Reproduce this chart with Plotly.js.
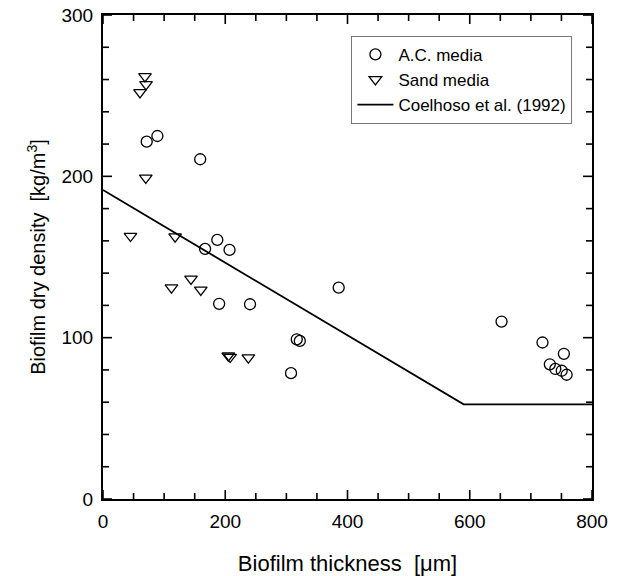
<!DOCTYPE html>
<html>
<head>
<meta charset="utf-8">
<script src="https://cdn.plot.ly/plotly-3.0.1.min.js"></script>
<style>html,body{margin:0;padding:0;background:#fff;}#chart{width:618px;height:576px;}</style>
</head>
<body>
<div id="chart"></div>
<script>
// A.C. media
var acX = [71.5, 89, 159, 167, 187, 207, 190, 240.5, 317, 322, 307.6, 385.6, 652, 719, 754, 731, 740, 750.5, 758.5];
var acY = [221.5, 225, 210.6, 155, 160.6, 154.4, 121, 120.7, 99, 98, 78, 131, 110, 97, 90, 83.5, 80.6, 79.5, 77];
// Sand media
var sandX = [68.7, 70.4, 60.5, 70, 45, 118, 112, 144, 160, 205, 208, 237.8];
var sandY = [262, 257, 252, 199, 163, 162.6, 131, 136.4, 129.6, 88.8, 88, 87.6];
// Coelhoso et al. (1992)
var coX = [0, 590, 800];
var coY = [191.5, 58.7, 58.7];

// tick values (major and minor)
var xMajor = [0, 200, 400, 600, 800];
var xMinor = [50, 100, 150, 250, 300, 350, 450, 500, 550, 650, 700, 750];
var yMajor = [0, 100, 200, 300];
var yMinor = [20, 40, 60, 80, 120, 140, 160, 180, 220, 240, 260, 280];

var font = 'Liberation Sans, Arial, Helvetica, sans-serif';
var W = 618, H = 576, M = {l: 103, r: 26, t: 15, b: 77};
var xRange = [0, 800], yRange = [0, 300];
var plotW = W - M.l - M.r, plotH = H - M.t - M.b;
var uX = (xRange[1] - xRange[0]) / plotW;  // data units per pixel
var uY = (yRange[1] - yRange[0]) / plotH;

var traces = [
  {x: acX, y: acY, type: 'scatter', mode: 'markers', name: 'A.C. media',
   marker: {symbol: 'circle-open', size: 11, color: '#000', line: {width: 1.3, color: '#000'}}},
  {x: sandX, y: sandY, type: 'scatter', mode: 'markers', name: 'Sand media',
   marker: {symbol: 'triangle-down-open', size: 11, color: '#000', line: {width: 1.3, color: '#000'}}},
  {x: coX, y: coY, type: 'scatter', mode: 'lines', name: 'Coelhoso et al. (1992)',
   line: {color: '#000', width: 1.8}}
];

// inside tick marks on all four sides (drawn as line traces on the axes' scales)
function tickTrace(majorVals, minorVals, isX) {
  var xs = [], ys = [];
  function add(vals, lenPx) {
    vals.forEach(function (v) {
      if (isX) {
        var l = lenPx * uY;
        xs.push(v, v, null, v, v, null);
        ys.push(yRange[0], yRange[0] + l, null, yRange[1], yRange[1] - l, null);
      } else {
        var l2 = lenPx * uX;
        ys.push(v, v, null, v, v, null);
        xs.push(xRange[0], xRange[0] + l2, null, xRange[1], xRange[1] - l2, null);
      }
    });
  }
  add(majorVals, 9);
  add(minorVals, 6);
  return {x: xs, y: ys, type: 'scatter', mode: 'lines', showlegend: false, hoverinfo: 'skip',
          cliponaxis: false, connectgaps: false, line: {color: '#000', width: 1.6}};
}
traces.push(tickTrace(xMajor, xMinor, true));
traces.push(tickTrace(yMajor, yMinor, false));

function axis(extra) {
  return Object.assign({
    showgrid: false, zeroline: false, showline: true, linecolor: '#000', linewidth: 2,
    mirror: true, ticks: '', tickmode: 'array', ticklabelstandoff: 4,
    tickfont: {family: font, size: 19, color: '#000'}
  }, extra);
}

var layout = {
  width: W, height: H,
  margin: M,
  paper_bgcolor: '#fff', plot_bgcolor: '#fff',
  showlegend: true,
  font: {family: font, color: '#000'},
  xaxis: axis({
    range: xRange, tickvals: xMajor, ticktext: xMajor.map(String),
    title: {text: 'Biofilm thickness\u00a0\u00a0[\u03bcm]', font: {family: font, size: 22, color: '#000'}, standoff: 26}
  }),
  yaxis: axis({
    range: yRange, tickvals: yMajor, ticktext: yMajor.map(String),
    title: {text: 'Biofilm dry density\u00a0\u00a0[kg/m<sup>3</sup>]', font: {family: font, size: 20, color: '#000'}, standoff: 10}
  }),
  legend: {
    x: 0.508, y: 0.957, xanchor: 'left', yanchor: 'top',
    bgcolor: '#fff', bordercolor: '#777', borderwidth: 1,
    font: {family: font, size: 17, color: '#000'},
    tracegroupgap: 0, itemwidth: 36
  }
};

Plotly.newPlot('chart', traces, layout, {displayModeBar: false, staticPlot: true});
</script>
</body>
</html>
